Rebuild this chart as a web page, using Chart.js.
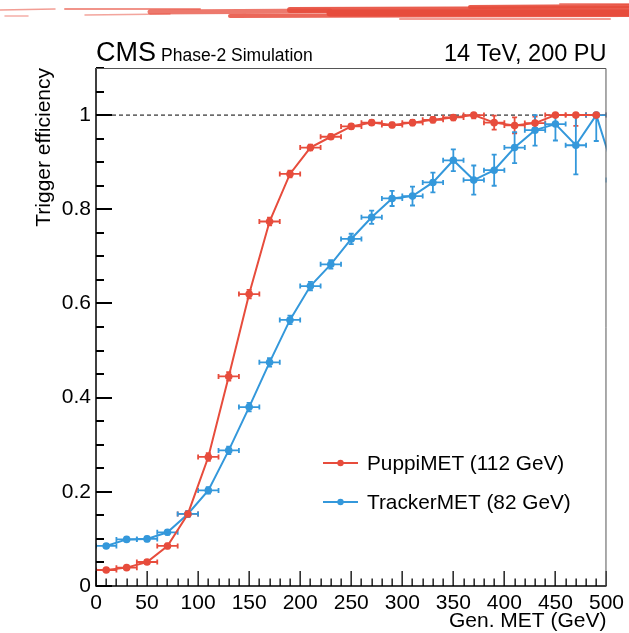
<!DOCTYPE html>
<html>
<head>
<meta charset="utf-8">
<script src="https://cdn.jsdelivr.net/npm/chart.js@4"></script>
<style>
  html, body { margin: 0; padding: 0; background: #fff; }
  canvas { display: block; }
</style>
</head>
<body>
<canvas id="eff" width="629" height="633"></canvas>
<script>
// bin centres of the generator MET histogram (20 GeV bins)
const binCenters = [10, 30, 50, 70, 90, 110, 130, 150, 170, 190, 210, 230, 250,
                    270, 290, 310, 330, 350, 370, 390, 410, 430, 450, 470, 490, 510];
const binHalfWidth = 10;

// PuppiMET, threshold 112 GeV
const puppiEff = [0.034, 0.039, 0.051, 0.085, 0.153, 0.274, 0.445, 0.620, 0.774, 0.875, 0.931, 0.954, 0.976,
                  0.984, 0.979, 0.984, 0.990, 0.995, 1.000, 0.984, 0.978, 0.983, 1.000, 1.000, 1.000];
const puppiErr = [0.003, 0.003, 0.004, 0.005, 0.006, 0.008, 0.009, 0.009, 0.008, 0.007, 0.006, 0.005, 0.005,
                  0.005, 0.005, 0.006, 0.006, 0.006, 0.007, 0.015, 0.017, 0.014, 0.005, 0.023, 0.004];

// TrackerMET, threshold 82 GeV
const trackerEff = [0.085, 0.099, 0.100, 0.114, 0.153, 0.203, 0.288, 0.380, 0.475, 0.565, 0.637, 0.683, 0.737,
                    0.783, 0.823, 0.828, 0.857, 0.904, 0.862, 0.883, 0.931, 0.968, 0.981, 0.936, 1.000, 0.862];
const trackerErr = [0.004, 0.004, 0.005, 0.005, 0.006, 0.007, 0.008, 0.009, 0.009, 0.009, 0.009, 0.009, 0.011,
                    0.014, 0.016, 0.020, 0.021, 0.023, 0.031, 0.033, 0.033, 0.033, 0.035, 0.062, 0.055, 0.060];

const seriesNames = ['PuppiMET (112 GeV)', 'TrackerMET (82 GeV)'];
const yTickLabels = ['0', '0.2', '0.4', '0.6', '0.8', '1'];

const RED = '#e74c3c';
const BLUE = '#3498db';
const FONT = "'Liberation Sans', Arial, Helvetica, sans-serif";

function points(eff, err) {
    return eff.map((v, i) => ({ x: binCenters[i], y: v, err: err[i] }));
}

// red brush stroke of the slide header
const bannerPlugin = {
    id: 'banner',
    beforeDraw(chart) {
        const ctx = chart.ctx;
        ctx.save();
        ctx.lineCap = 'round';
        const strokes = [
            [0, 10, 55, 9, 1.5, 0.55], [65, 9, 200, 9, 2, 0.6], [5, 16, 28, 16, 1.5, 0.45],
            [85, 15, 170, 14, 1.5, 0.5], [150, 12, 330, 11, 5, 0.75], [230, 16, 629, 15, 4, 0.85],
            [290, 10, 629, 9, 6, 0.9], [330, 13, 629, 13, 7, 1], [470, 7, 629, 6, 4, 0.9],
            [400, 19, 610, 19, 2, 0.55], [560, 4, 629, 4, 2, 0.6]
        ];
        strokes.forEach(([x1, y1, x2, y2, w, a]) => {
            ctx.strokeStyle = RED;
            ctx.globalAlpha = a;
            ctx.lineWidth = w;
            ctx.beginPath();
            ctx.moveTo(x1, y1);
            ctx.lineTo(x2, y2);
            ctx.stroke();
        });
        ctx.restore();
    }
};

// dashed line at 1 and error bars
const errorBarPlugin = {
    id: 'errorBars',
    beforeDatasetsDraw(chart) {
        const { ctx, chartArea, scales: { x, y } } = chart;
        ctx.save();
        ctx.beginPath();
        ctx.rect(chartArea.left, chartArea.top, chartArea.right - chartArea.left, chartArea.bottom - chartArea.top);
        ctx.clip();

        ctx.strokeStyle = '#000';
        ctx.lineWidth = 1;
        ctx.setLineDash([4, 3]);
        ctx.beginPath();
        ctx.moveTo(chartArea.left + 16, y.getPixelForValue(1));
        ctx.lineTo(chartArea.right, y.getPixelForValue(1));
        ctx.stroke();
        ctx.setLineDash([]);

        chart.data.datasets.forEach(ds => {
            ctx.strokeStyle = ds.borderColor;
            ctx.lineWidth = 1.8;
            const cap = 2.5;
            ds.data.forEach(p => {
                const px = x.getPixelForValue(p.x);
                const py = y.getPixelForValue(p.y);
                const xl = x.getPixelForValue(p.x - binHalfWidth);
                const xr = x.getPixelForValue(p.x + binHalfWidth);
                const yl = y.getPixelForValue(p.y - p.err);
                const yh = y.getPixelForValue(Math.min(1, p.y + p.err));
                ctx.beginPath();
                ctx.moveTo(xl, py); ctx.lineTo(xr, py);
                ctx.moveTo(xl, py - cap); ctx.lineTo(xl, py + cap);
                ctx.moveTo(xr, py - cap); ctx.lineTo(xr, py + cap);
                if (Math.abs(yl - yh) > 3) {
                    ctx.moveTo(px, yl); ctx.lineTo(px, yh);
                    ctx.moveTo(px - cap, yl); ctx.lineTo(px + cap, yl);
                    ctx.moveTo(px - cap, yh); ctx.lineTo(px + cap, yh);
                }
                ctx.stroke();
            });
        });
        ctx.restore();
    }
};

// ROOT-like frame with inner ticks, titles and legend
const framePlugin = {
    id: 'frame',
    afterDraw(chart) {
        const { ctx, chartArea: a, scales: { x, y } } = chart;
        ctx.save();

        ctx.fillStyle = '#000';
        for (let k = 0; k <= 22; k++) {
            const py = Math.round(y.getPixelForValue(k * 0.05));
            ctx.fillRect(a.left, py - 1, k % 4 === 0 ? 16 : 8, 2);
        }
        for (let k = 0; k <= 50; k++) {
            const px = Math.round(x.getPixelForValue(k * 10));
            const len = k % 5 === 0 ? 15 : 7.5;
            ctx.fillRect(px - 0.5, a.bottom - len, 1.3, len);
        }

        ctx.lineWidth = 1.5;
        ctx.strokeStyle = '#000';
        ctx.beginPath();
        ctx.moveTo(a.left, a.top);
        ctx.lineTo(a.left, a.bottom);
        ctx.lineTo(a.right, a.bottom);
        ctx.stroke();
        ctx.lineWidth = 1;
        ctx.strokeStyle = '#555';
        ctx.beginPath();
        ctx.moveTo(a.left, a.top + 0.5);
        ctx.lineTo(a.right - 0.5, a.top + 0.5);
        ctx.lineTo(a.right - 0.5, a.bottom);
        ctx.stroke();

        ctx.fillStyle = '#000';
        ctx.textBaseline = 'alphabetic';
        ctx.textAlign = 'left';
        ctx.font = '27px ' + FONT;
        ctx.fillText('CMS', a.left, 61);
        const cmsW = ctx.measureText('CMS').width;
        ctx.font = '17.5px ' + FONT;
        ctx.fillText('Phase-2 Simulation', a.left + cmsW + 5, 61);
        ctx.textAlign = 'right';
        ctx.font = '23.5px ' + FONT;
        ctx.fillText('14 TeV, 200 PU', a.right, 61);

        ctx.font = '21px ' + FONT;
        ctx.fillText('Gen. MET (GeV)', a.right, 627);

        ctx.save();
        ctx.translate(50, a.top);
        ctx.rotate(-Math.PI / 2);
        ctx.textAlign = 'right';
        ctx.font = '21px ' + FONT;
        ctx.fillText('Trigger efficiency', 0, 0);
        ctx.restore();

        // legend
        ctx.font = '20.8px ' + FONT;
        ctx.textAlign = 'left';
        ctx.textBaseline = 'middle';
        chart.data.datasets.forEach((ds, i) => {
            const ly = 463 + i * 39;
            ctx.strokeStyle = ds.borderColor;
            ctx.lineWidth = 2;
            ctx.beginPath();
            ctx.moveTo(323, ly);
            ctx.lineTo(358, ly);
            ctx.stroke();
            ctx.fillStyle = ds.borderColor;
            ctx.beginPath();
            ctx.arc(340.5, ly, 3.2, 0, Math.PI * 2);
            ctx.fill();
            ctx.fillStyle = '#000';
            ctx.fillText(ds.label, 367, ly + 1);
        });
        ctx.restore();
    }
};

new Chart(document.getElementById('eff'), {
    type: 'line',
    data: {
        datasets: [
            {
                label: seriesNames[0],
                data: points(puppiEff, puppiErr),
                borderColor: RED,
                backgroundColor: RED,
                borderWidth: 2,
                pointRadius: 3.8,
                pointBorderWidth: 0,
                tension: 0
            },
            {
                label: seriesNames[1],
                data: points(trackerEff, trackerErr),
                borderColor: BLUE,
                backgroundColor: BLUE,
                borderWidth: 2,
                pointRadius: 3.8,
                pointBorderWidth: 0,
                tension: 0
            }
        ]
    },
    options: {
        responsive: false,
        animation: false,
        layout: { padding: { left: 0, right: 21, top: 68, bottom: 0 } },
        plugins: {
            legend: { display: false },
            tooltip: { enabled: false }
        },
        scales: {
            x: {
                type: 'linear',
                min: 0,
                max: 500,
                afterFit: s => { s.height = 47; },
                grid: { display: false, drawTicks: false },
                border: { display: false },
                ticks: {
                    stepSize: 10,
                    autoSkip: false,
                    maxRotation: 0,
                    padding: 5,
                    color: '#000',
                    font: { family: FONT, size: 21 },
                    callback: v => (v % 50 === 0 ? String(v) : '')
                }
            },
            y: {
                type: 'linear',
                min: 0,
                max: 1.1,
                afterFit: s => { s.width = 96; },
                grid: { display: false, drawTicks: false },
                border: { display: false },
                ticks: {
                    stepSize: 0.05,
                    autoSkip: false,
                    padding: 5,
                    color: '#000',
                    font: { family: FONT, size: 21 },
                    callback: v => {
                        const k = Math.round(v / 0.2);
                        return Math.abs(v / 0.2 - k) < 1e-6 && k < yTickLabels.length ? yTickLabels[k] : '';
                    }
                }
            }
        }
    },
    plugins: [bannerPlugin, errorBarPlugin, framePlugin]
});
</script>
</body>
</html>
